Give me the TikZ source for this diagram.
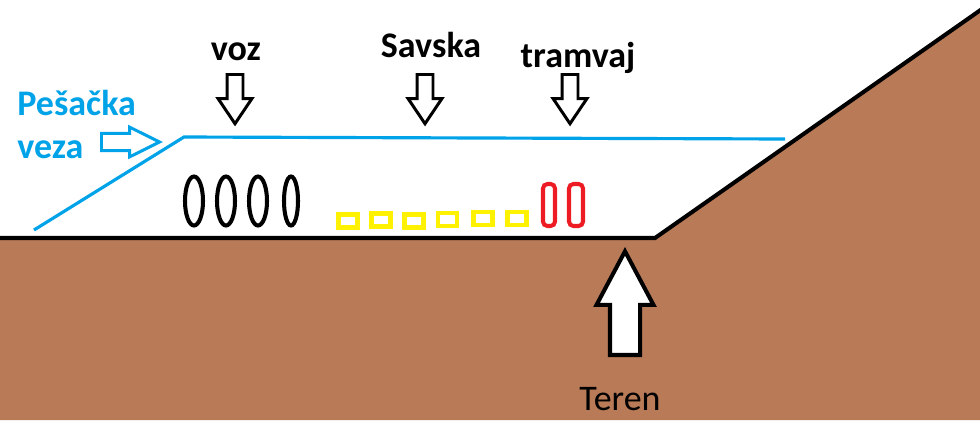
\documentclass[tikz,border=0pt]{standalone}
\usepackage{fontspec}
\setmainfont{Carlito}
\usepackage{tikz}
\usetikzlibrary{shapes.arrows, positioning}

\definecolor{groundbrown}{RGB}{185,122,87}
\definecolor{paintblue}{RGB}{0,162,232}
\definecolor{paintyellow}{RGB}{255,242,0}
\definecolor{paintred}{RGB}{237,28,36}

\begin{document}
\begin{tikzpicture}[
    x=0.02cm, y=-0.02cm,
    label text/.style = {
        font=\fontsize{20.5}{24}\selectfont\bfseries,
        inner sep=0pt
    },
    down arrow/.style = {
        single arrow,
        draw=black,
        fill=white,
        line width=1.7pt,
        rotate=-90,
        minimum height=28pt,
        minimum width=17.6pt,
        single arrow head extend=5.1pt,
        single arrow tip angle=68,
        inner xsep=0pt,
        inner ysep=3.7pt,
        anchor=tail
    },
    car/.style = {black, line width=2.3pt},
    lane/.style = {draw=paintyellow, line width=2.8pt},
    tram/.style = {draw=paintred, line width=2.3pt, rounded corners=2.5pt}
]

\useasboundingbox (0,0) rectangle (980,420);

% ground and embankment
\fill[groundbrown] (0,238) -- (655,238) -- (980,10) -- (980,420) -- (0,420) -- cycle;
\draw[line width=2.3pt] (0,238) -- (655,238) -- (982,9);

% pedestrian link (bridge deck)
\draw[paintblue, line width=1.8pt] (34,230) -- (184,137) -- (483,138) -- (785,139);

% cars
\draw[car] (194,201) ellipse [x radius=9, y radius=24.5];
\draw[car] (226,201) ellipse [x radius=9, y radius=24.5];
\draw[car] (258,201) ellipse [x radius=9, y radius=24.5];
\draw[car] (291,201) ellipse [x radius=7, y radius=24.5];

% road lanes
\foreach \cx/\cy in {348/221, 381/220, 414/221, 447.5/219.5, 483/218.5, 517/218.5}
    \draw[lane] (\cx-9.5,\cy-6.5) rectangle (\cx+9.5,\cy+6.5);

% tram
\draw[tram] (543,184) rectangle (555,226);
\draw[tram] (569,184) rectangle (583,226);

% labels with arrows
\node[label text, anchor=base] (voz) at (236,60) {voz};
\node[label text, anchor=base] (savska) at (431,57) {Savska};
\node[label text, anchor=base] (tramvaj) at (578,67) {tramvaj};

\node[down arrow] (vozarrow) at (235,73) {};
\node[down arrow] (savskaarrow) at (425,73) {};
\node[down arrow] (tramvajarrow) at (570,73) {};

\node[label text, text=paintblue, anchor=base west] (pesacka) at (17,115) {Pešačka};
\node[label text, text=paintblue, anchor=base west] (veza) at (17,158) {veza};
\node[single arrow, draw=paintblue, fill=white, line width=1.7pt,
      minimum height=33pt, minimum width=15.3pt,
      single arrow head extend=3.65pt, single arrow tip angle=53,
      inner xsep=0pt, inner ysep=4pt, anchor=tail] (vezaarrow) at (100,142) {};

\node[single arrow, draw=black, fill=white, line width=2.3pt, rotate=90,
      minimum height=59pt, minimum width=30pt,
      single arrow head extend=7.65pt, single arrow tip angle=56,
      inner xsep=0pt, inner ysep=7.4pt, anchor=tail] (terenarrow) at (625,357) {};
\node[label text, font=\fontsize{20.5}{24}\selectfont, anchor=base] (teren) at (620,410) {Teren};

\end{tikzpicture}
\end{document}
